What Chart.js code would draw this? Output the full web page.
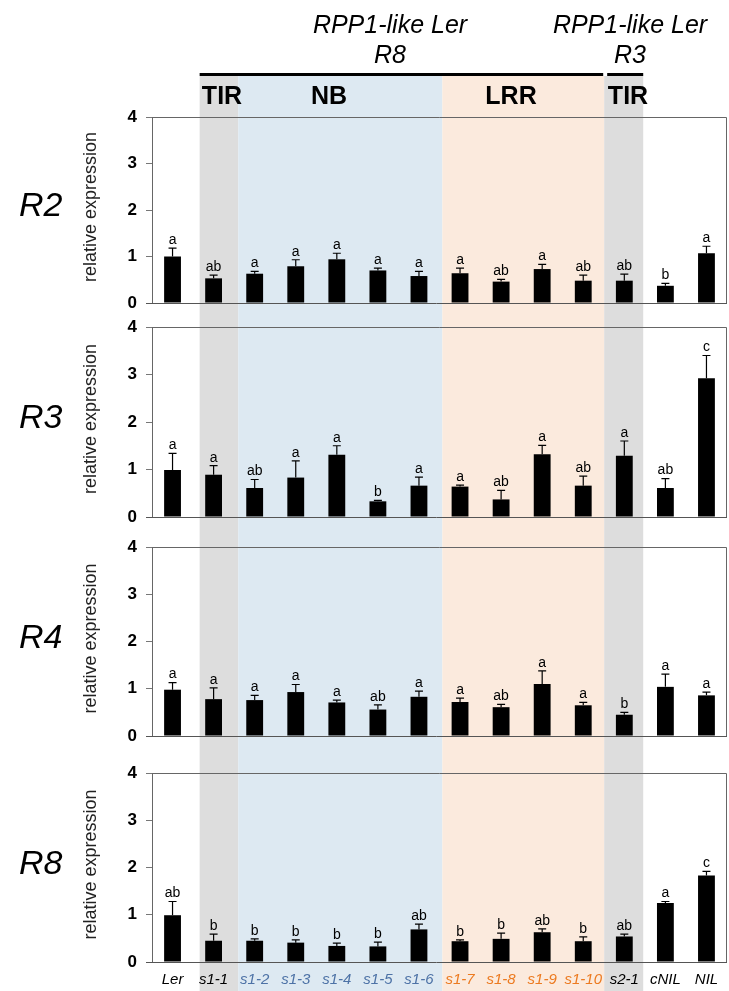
<!DOCTYPE html>
<html>
<head>
<meta charset="utf-8">
<script src="https://cdn.jsdelivr.net/npm/chart.js@4.4.1/dist/chart.umd.min.js"></script>
<style>
  html, body { margin: 0; padding: 0; background: #fff; }
  #wrap { position: relative; width: 729px; height: 991px; overflow: hidden; }
  canvas { position: absolute; left: 0; }
</style>
</head>
<body>
<div id="wrap">
  <canvas id="c1" width="729" height="315" style="top:0px"></canvas>
  <canvas id="c2" width="729" height="220" style="top:315px"></canvas>
  <canvas id="c3" width="729" height="226" style="top:535px"></canvas>
  <canvas id="c4" width="729" height="230" style="top:761px"></canvas>
</div>
<script>
// lines tested
const categories = ['Ler', 's1-1', 's1-2', 's1-3', 's1-4', 's1-5', 's1-6', 's1-7', 's1-8', 's1-9', 's1-10', 's2-1', 'cNIL', 'NIL'];

// R2 expression
const r2Values = [1.00, 0.53, 0.63, 0.79, 0.94, 0.70, 0.58, 0.64, 0.46, 0.73, 0.48, 0.48, 0.37, 1.07];
const r2Err = [0.18, 0.07, 0.05, 0.14, 0.13, 0.05, 0.10, 0.11, 0.05, 0.10, 0.12, 0.14, 0.05, 0.15];
const r2Letters = ['a', 'ab', 'a', 'a', 'a', 'a', 'a', 'a', 'ab', 'a', 'ab', 'ab', 'b', 'a'];

// R3 expression
const r3Values = [0.99, 0.89, 0.61, 0.83, 1.31, 0.33, 0.66, 0.64, 0.37, 1.32, 0.66, 1.29, 0.61, 2.92];
const r3Err = [0.35, 0.19, 0.18, 0.35, 0.19, 0.02, 0.18, 0.03, 0.19, 0.19, 0.20, 0.31, 0.20, 0.48];
const r3Letters = ['a', 'a', 'ab', 'a', 'a', 'b', 'a', 'a', 'ab', 'a', 'ab', 'a', 'ab', 'c'];

// R4 expression
const r4Values = [0.98, 0.78, 0.76, 0.93, 0.71, 0.56, 0.83, 0.72, 0.61, 1.10, 0.65, 0.45, 1.04, 0.86];
const r4Err = [0.15, 0.24, 0.10, 0.16, 0.05, 0.10, 0.12, 0.08, 0.06, 0.28, 0.06, 0.05, 0.27, 0.07];
const r4Letters = ['a', 'a', 'a', 'a', 'a', 'ab', 'a', 'a', 'ab', 'a', 'a', 'b', 'a', 'a'];

// R8 expression
const r8Values = [0.99, 0.45, 0.45, 0.41, 0.34, 0.33, 0.69, 0.44, 0.49, 0.63, 0.44, 0.54, 1.25, 1.83];
const r8Err = [0.29, 0.14, 0.04, 0.06, 0.06, 0.09, 0.11, 0.03, 0.12, 0.07, 0.09, 0.05, 0.03, 0.09];
const r8Letters = ['ab', 'b', 'b', 'b', 'b', 'b', 'ab', 'b', 'b', 'ab', 'b', 'ab', 'a', 'c'];

// domain bands, in category units (from, to, colour)
const bands = [
  [0.66, 1.60, '#dddddd'],
  [1.60, 6.57, '#dde9f2'],
  [6.57, 10.51, '#fbeadd'],
  [10.51, 11.46, '#dddddd']
];
const labelColors = ['#000', '#000', '#4d72a6', '#4d72a6', '#4d72a6', '#4d72a6', '#4d72a6',
  '#ec7a20', '#ec7a20', '#ec7a20', '#ec7a20', '#000', '#000', '#000'];

const FONT = "'Liberation Sans', Arial, Helvetica, sans-serif";
Chart.defaults.font.family = FONT;

function xAt(x, u) {
  // category units -> pixel
  const p0 = x.getPixelForValue(0), p1 = x.getPixelForValue(1);
  return p0 + (p1 - p0) * u;
}

function makePanel(id, gene, values, err, letters, opt) {
  const panelPlugin = {
    id: 'panel_' + id,
    beforeDraw(chart) {
      const ctx = chart.ctx, x = chart.scales.x;
      ctx.save();
      bands.forEach(b => {
        const a = xAt(x, b[0]), e = xAt(x, b[1]);
        ctx.fillStyle = b[2];
        ctx.fillRect(a, opt.bandTop, e - a, chart.height - opt.bandTop);
      });
      ctx.restore();
    },
    afterDatasetsDraw(chart) {
      const ctx = chart.ctx, y = chart.scales.y, area = chart.chartArea;
      const meta = chart.getDatasetMeta(0);
      ctx.save();
      // error bars
      ctx.strokeStyle = '#000';
      ctx.lineWidth = 1.2;
      meta.data.forEach((bar, i) => {
        const top = y.getPixelForValue(values[i] + err[i]);
        const base = y.getPixelForValue(values[i]);
        ctx.beginPath();
        ctx.moveTo(bar.x, base);
        ctx.lineTo(bar.x, top);
        ctx.moveTo(bar.x - 4, top);
        ctx.lineTo(bar.x + 4, top);
        ctx.stroke();
        ctx.fillStyle = '#000';
        ctx.font = '14px ' + FONT;
        ctx.textAlign = 'center';
        ctx.textBaseline = 'bottom';
        ctx.fillText(letters[i], bar.x, top - 1);
      });
      // plot box
      ctx.strokeStyle = '#666';
      ctx.lineWidth = 1;
      ctx.beginPath();
      ctx.moveTo(area.left, area.top + 0.5);
      ctx.lineTo(area.right - 0.5, area.top + 0.5);
      ctx.lineTo(area.right - 0.5, area.bottom);
      ctx.stroke();
      ctx.strokeStyle = '#555';
      ctx.beginPath();
      ctx.moveTo(area.left - 6, area.bottom + 0.5);
      ctx.lineTo(area.right, area.bottom + 0.5);
      ctx.stroke();
      // gene name and axis title
      const mid = (area.top + area.bottom) / 2;
      ctx.fillStyle = '#000';
      ctx.font = 'italic 34px ' + FONT;
      ctx.textAlign = 'left';
      ctx.textBaseline = 'middle';
      ctx.fillText(gene, 19, mid - 3);
      ctx.translate(91, mid - 3);
      ctx.rotate(-Math.PI / 2);
      ctx.fillStyle = '#222';
      ctx.font = '18px ' + FONT;
      ctx.textAlign = 'center';
      ctx.fillText('relative expression', 0, 0);
      ctx.restore();
    },
    afterDraw(chart) {
      if (!opt.header) return;
      const ctx = chart.ctx, x = chart.scales.x;
      ctx.save();
      ctx.fillStyle = '#000';
      ctx.textAlign = 'center';
      ctx.textBaseline = 'alphabetic';
      ctx.font = 'italic 25px ' + FONT;
      ctx.fillText('RPP1-like Ler', 390, 33);
      ctx.fillText('R8', 390, 63);
      ctx.fillText('RPP1-like Ler', 630, 33);
      ctx.fillText('R3', 630, 63);
      ctx.strokeStyle = '#000';
      ctx.lineWidth = 3;
      ctx.beginPath();
      ctx.moveTo(xAt(x, bands[0][0]), 74.5);
      ctx.lineTo(xAt(x, bands[2][1]) - 1, 74.5);
      ctx.moveTo(xAt(x, bands[3][0]) + 3, 74.5);
      ctx.lineTo(xAt(x, bands[3][1]), 74.5);
      ctx.stroke();
      ctx.font = 'bold 25px ' + FONT;
      ctx.fillText('TIR', 222, 104);
      ctx.fillText('NB', 329, 104);
      ctx.fillText('LRR', 511, 104);
      ctx.fillText('TIR', 628, 104);
      ctx.restore();
    }
  };

  const xScale = opt.showX ? {
    grid: { display: false, drawTicks: false },
    border: { display: false },
    ticks: {
      autoSkip: false, maxRotation: 0, padding: 9,
      font: { style: 'italic', size: 15 },
      color: c => labelColors[c.index]
    },
    afterFit: s => { s.height = opt.xHeight; s.paddingLeft = 0; s.paddingRight = 0; }
  } : { display: false };

  return new Chart(document.getElementById(id), {
    type: 'bar',
    data: {
      labels: categories,
      datasets: [{
        data: values,
        backgroundColor: '#000',
        borderWidth: 0,
        barPercentage: 1,
        categoryPercentage: 0.41
      }]
    },
    options: {
      responsive: false,
      animation: false,
      layout: { padding: { top: 12 + opt.extraTop, bottom: opt.padBottom, left: 0, right: 2 } },
      plugins: { legend: { display: false }, tooltip: { enabled: false } },
      scales: {
        x: xScale,
        y: {
          min: 0, max: 4,
          ticks: { stepSize: 1, padding: 9, color: '#000', font: { size: 17, weight: 'bold' } },
          grid: { drawOnChartArea: false, tickLength: 6, color: '#777' },
          border: { color: '#666' },
          afterFit: s => { s.width = 152; s.paddingTop = 0; s.paddingBottom = 0; }
        }
      }
    },
    plugins: [panelPlugin]
  });
}

makePanel('c1', 'R2', r2Values, r2Err, r2Letters, { header: true, bandTop: 76, extraTop: 105, padBottom: 12 });
makePanel('c2', 'R3', r3Values, r3Err, r3Letters, { bandTop: 0, extraTop: 0, padBottom: 18 });
makePanel('c3', 'R4', r4Values, r4Err, r4Letters, { bandTop: 0, extraTop: 0, padBottom: 25 });
makePanel('c4', 'R8', r8Values, r8Err, r8Letters, { bandTop: 0, extraTop: 0, padBottom: 0, showX: true, xHeight: 29 });
</script>
</body>
</html>
